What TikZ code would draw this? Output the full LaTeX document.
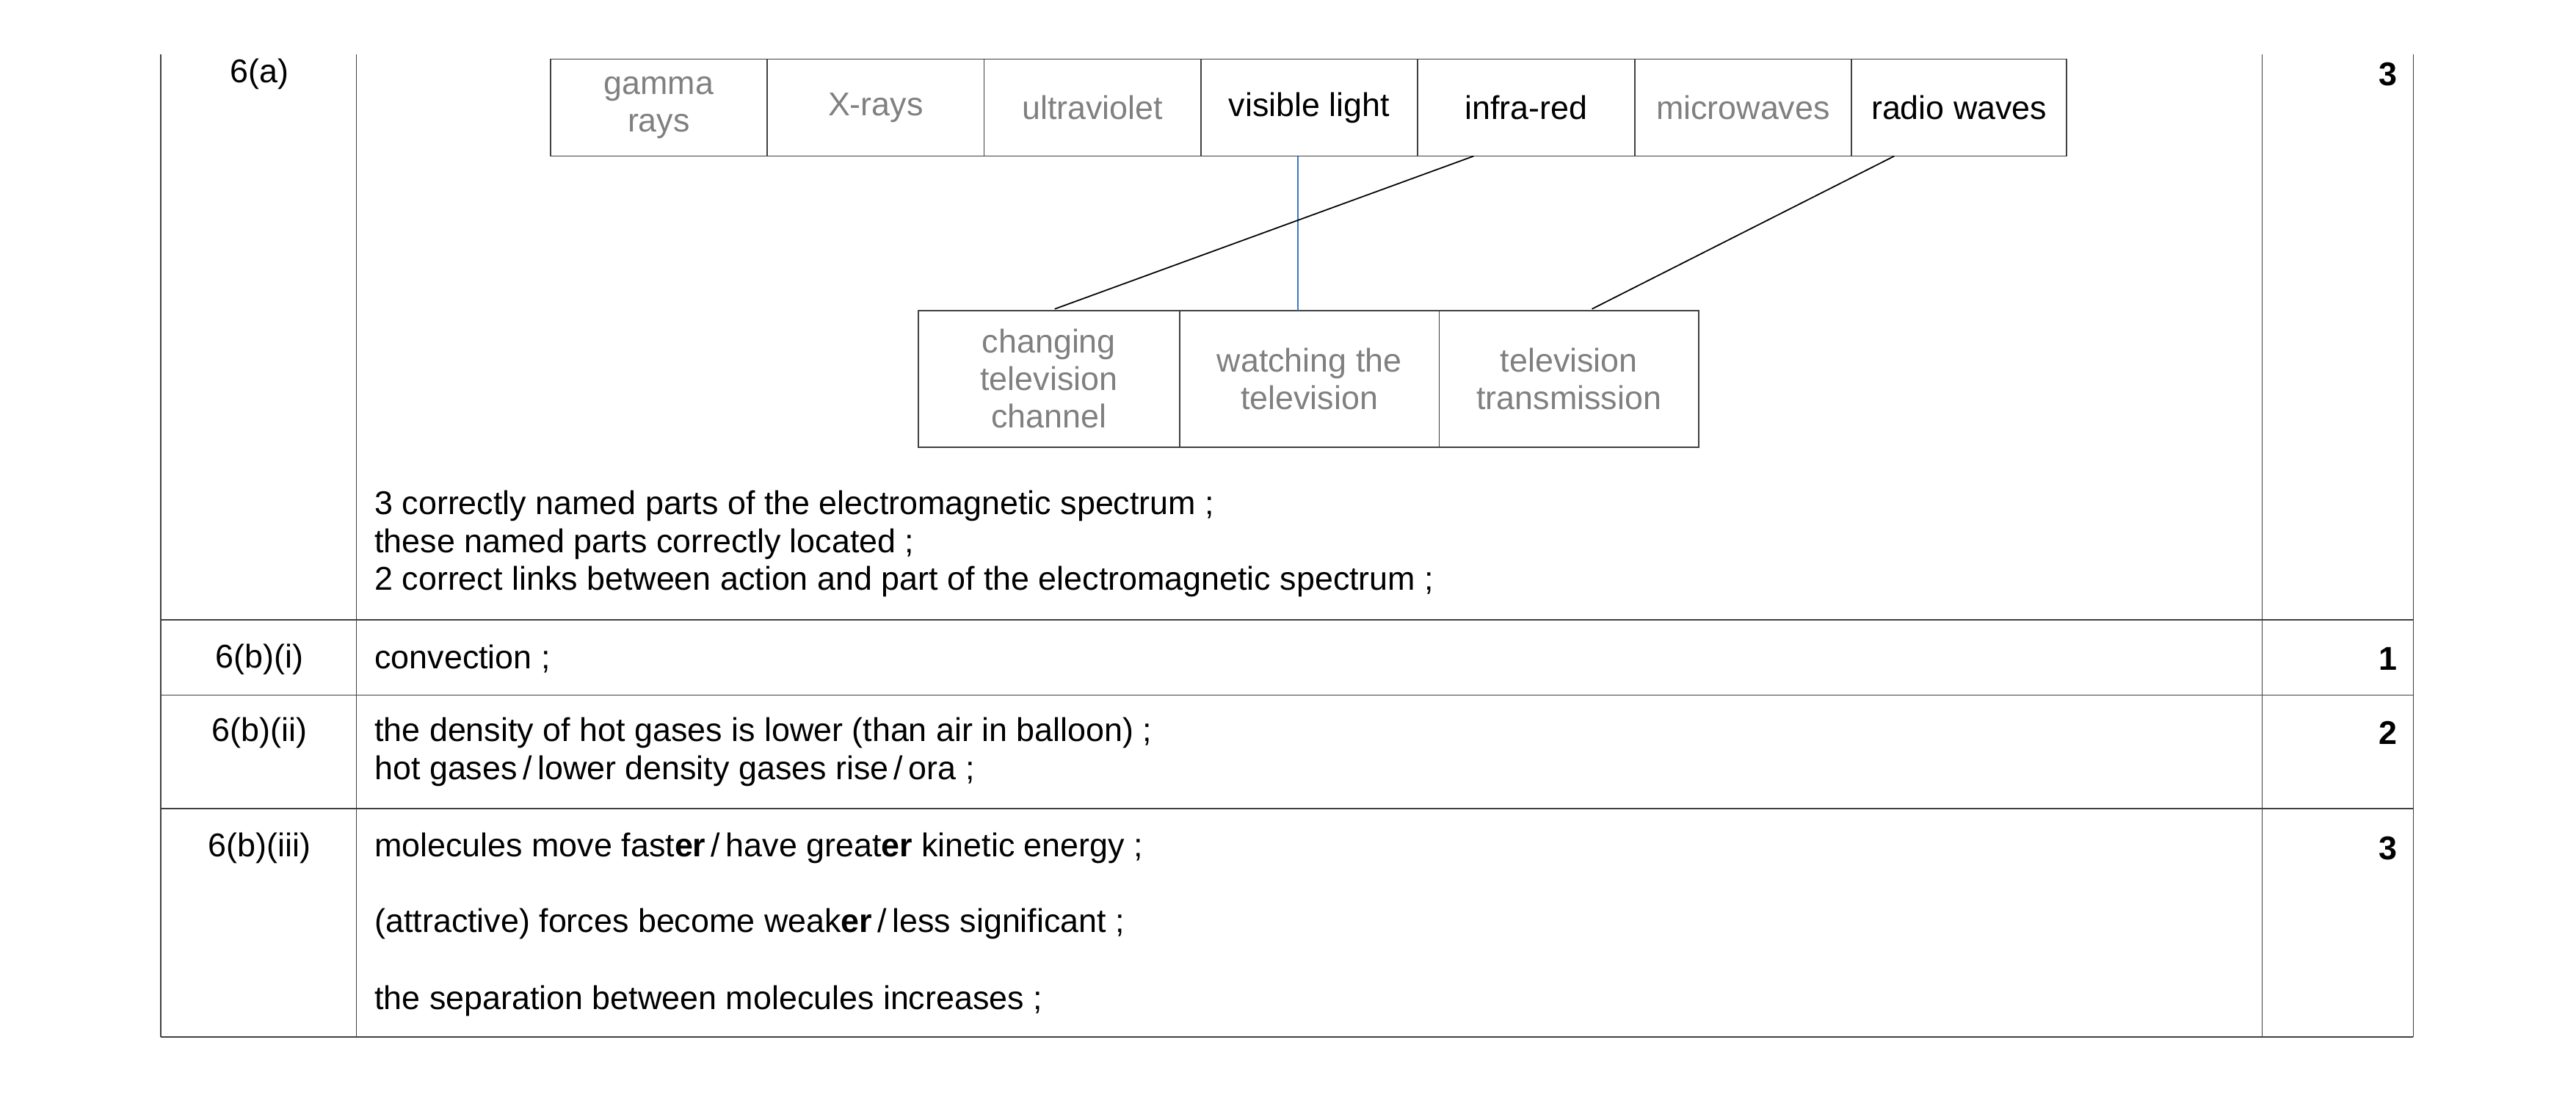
\documentclass[tikz,border=0pt]{standalone}
\usepackage{fontspec}
\setmainfont{Liberation Sans}
\begin{document}
\begin{tikzpicture}[x=1mm,y=-1mm,
  every node/.style={font=\fontsize{57}{65}\selectfont, inner sep=0pt},
  rule/.style={line width=2.2pt, draw=black!75},
  bx/.style={rule},
  g/.style={text=black!50, align=center},
  k/.style={text=black, align=center},
  t/.style={anchor=west, text=black},
  mk/.style={anchor=east, font=\fontsize{57}{65}\selectfont\bfseries}]
\useasboundingbox (0,0) rectangle (1568,666);
% table
\draw[rule] (98,33) -- (98,631) (217,33) -- (217,631) (1377,33) -- (1377,631) (1469,33) -- (1469,631);
\draw[rule] (98,377) -- (1469,377) (98,423) -- (1469,423) (98,492) -- (1469,492) (98,631) -- (1469,631);
% spectrum
\foreach \a/\b/\n/\s/\tx in {335/467/s1/g/{gamma\\rays},467/599/s2/g/X-rays,599/731/s3/g/ultraviolet,731/863/s4/k/visible light,863/995/s5/k/infra-red,995/1127/s6/g/microwaves,1127/1258/s7/k/radio waves}
  {\draw[bx] (\a,36) rectangle (\b,95); \node[\s] (\n) at ({(\a+\b)/2},65.5) {\tx};}
\foreach \a/\b/\n/\tx in {559/718/a1/{changing\\television\\channel},718/876/a2/{watching the\\television},876/1034/a3/{television\\transmission}}
  {\draw[bx] (\a,189) rectangle (\b,272); \node[g] (\n) at ({(\a+\b)/2},230.5) {\tx};}
\coordinate (p1) at (790,95); \coordinate (q1) at (790,189);
\coordinate (p2) at (897,95); \coordinate (q2) at (642,188);
\coordinate (p3) at (1153,95); \coordinate (q3) at (969,188);
\draw[line width=2.2pt, draw={rgb,255:red,60;green,120;blue,200}] (p1) -- (q1);
\draw[line width=2.2pt] (p2) -- (q2) (p3) -- (q3);
% labels
\node (l1) at (158,45) {6(a)};
\node (l2) at (158,401) {6(b)(i)};
\node (l3) at (158,446) {6(b)(ii)};
\node (l4) at (158,516) {6(b)(iii)};
\node[mk] (m1) at (1459,45) {3};
\node[mk] (m2) at (1459,401) {1};
\node[mk] (m3) at (1459,446) {2};
\node[mk] (m4) at (1459,516) {3};
\node[t] (x1) at (228,308) {3 correctly named parts of the electromagnetic spectrum ;};
\node[t] (x2) at (228,331) {these named parts correctly located ;};
\node[t] (x3) at (228,354) {2 correct links between action and part of the electromagnetic spectrum ;};
\node[t] (x4) at (228,401) {convection ;};
\node[t] (x5) at (228,446) {the density of hot gases is lower (than air in balloon) ;};
\node[t] (x6) at (228,469) {hot gases\,/\,lower density gases rise\,/\,ora ;};
\node[t] (x7) at (228,516) {molecules move fast\textbf{er}\,/\,have great\textbf{er} kinetic energy ;};
\node[t] (x8) at (228,562) {(attractive) forces become weak\textbf{er}\,/\,less significant ;};
\node[t] (x9) at (228,609) {the separation between molecules increases ;};
\end{tikzpicture}
\end{document}
